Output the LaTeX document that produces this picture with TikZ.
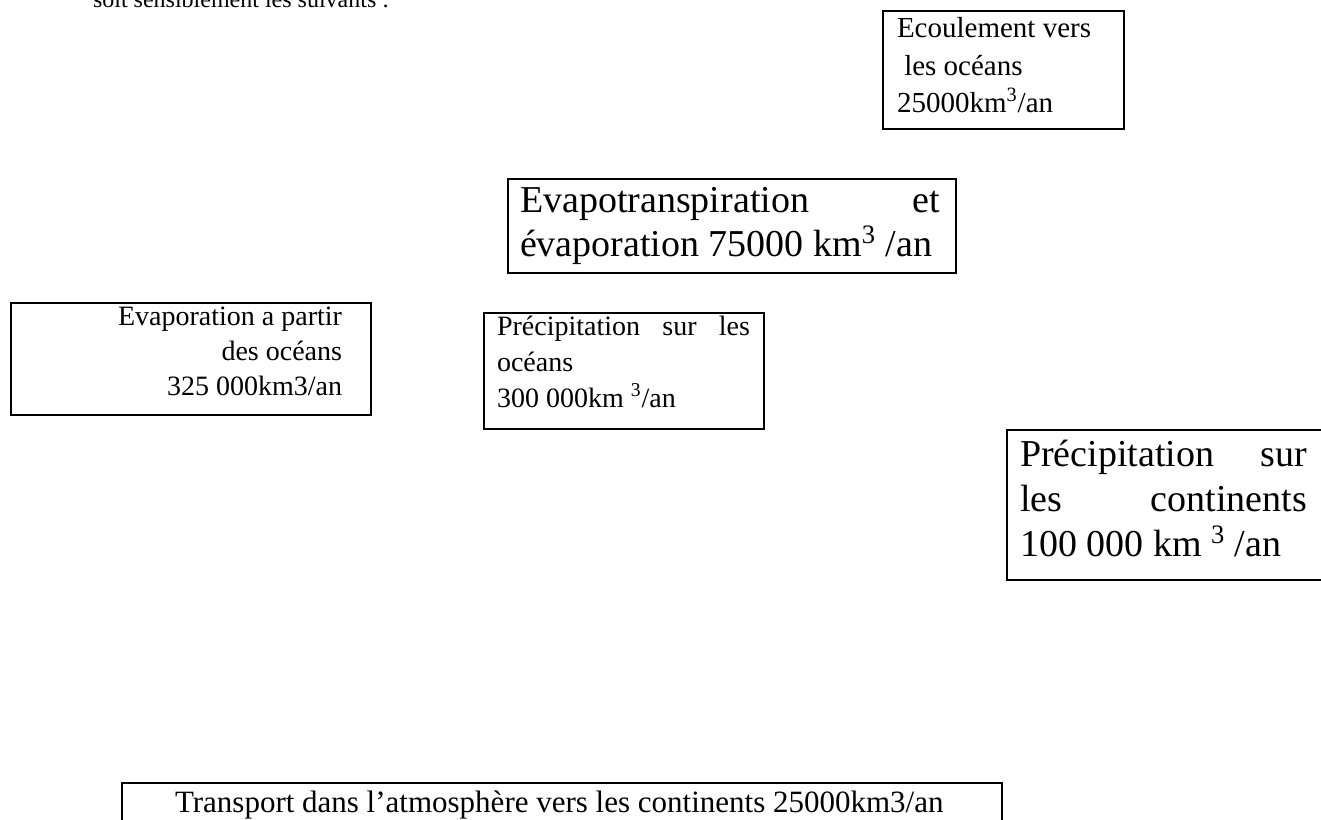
\documentclass[tikz,border=0pt]{standalone}
\usepackage{fontspec}
\setmainfont{Liberation Serif}
\newcommand\fbig{\fontsize{19pt}{22pt}\selectfont}
\newcommand\fsmall{\fontsize{14pt}{17pt}\selectfont}
\newcommand\fecoul{\fontsize{14.5pt}{17pt}\selectfont}
\newcommand\fbody{\fontsize{12pt}{14pt}\selectfont}
\newcommand\ftrans{\fontsize{15.5pt}{18pt}\selectfont}
\begin{document}
\begin{tikzpicture}[x=0.5pt,y=-0.5pt,
  box/.style={draw, line width=1.2pt, anchor=north west, inner sep=0pt},
  txt/.style={inner sep=0pt, outer sep=0pt, anchor=base west},
  txtr/.style={inner sep=0pt, outer sep=0pt, anchor=base east}]
\useasboundingbox (0,0) rectangle (1321,819);

% top body text (cut off)
\node[txt, font=\fbody] (intro) at (93,8) {soit sensiblement les suivants :};

% Ecoulement vers les oceans
\node[box, minimum width=120.5pt, minimum height=59pt] (ecoulbox) at (882,10) {};
\node[txt, font=\fecoul] (ecoul1) at (897,37) {Ecoulement vers};
\node[txt, font=\fecoul] (ecoul2) at (897,75) {\ les océans};
\node[txt, font=\fecoul] (ecoul3) at (897,112) {25000km\textsuperscript{3}/an};

% Evapotranspiration
\node[box, minimum width=224pt, minimum height=47pt] (evapobox) at (507,178) {};
\node[txt, font=\fbig] (evapo1) at (520,212) {\hbox to 210pt{Evapotranspiration\hfill et}};
\node[txt, font=\fbig] (evapo2) at (520,256) {évaporation 75000 km\textsuperscript{3} /an};

% Evaporation a partir des oceans
\node[box, minimum width=180pt, minimum height=56pt] (evocbox) at (10,302) {};
\node[txtr, font=\fsmall] (evoc1) at (342,325) {Evaporation a partir};
\node[txtr, font=\fsmall] (evoc2) at (342,360) {des océans};
\node[txtr, font=\fsmall] (evoc3) at (342,395) {325 000km3/an};

% Precipitation sur les oceans
\node[box, minimum width=140pt, minimum height=58pt] (precocbox) at (483,312) {};
\node[txt, font=\fsmall] (precoc1) at (497,335) {\hbox to 126.5pt{Précipitation\hfill sur\hfill les}};
\node[txt, font=\fsmall] (precoc2) at (497,371) {océans};
\node[txt, font=\fsmall] (precoc3) at (497,407) {300 000km \textsuperscript{3}/an};

% Precipitation sur les continents
\node[box, minimum width=165pt, minimum height=75pt] (precconbox) at (1006,429) {};
\node[txt, font=\fbig] (preccon1) at (1020,466) {\hbox to 143.5pt{Précipitation\hfill sur}};
\node[txt, font=\fbig] (preccon2) at (1020,511) {\hbox to 143.5pt{les\hfill continents}};
\node[txt, font=\fbig] (preccon3) at (1020,556) {100 000 km \textsuperscript{3} /an};

% Transport
\node[box, minimum width=440pt, minimum height=30pt] (transbox) at (121,782) {};
\node[txt, font=\ftrans] (trans1) at (175,812) {Transport dans l’atmosphère vers les continents 25000km3/an};
\end{tikzpicture}
\end{document}
